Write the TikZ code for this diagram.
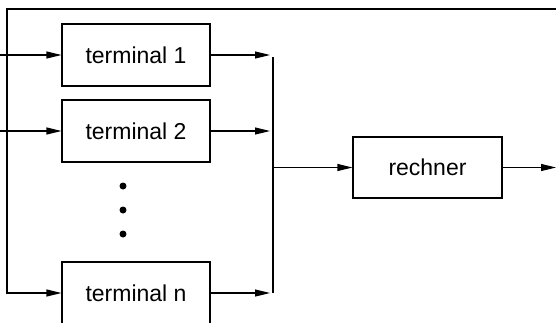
\documentclass[tikz,border=0pt]{standalone}
\usepackage{fontspec}
\setmainfont{Liberation Sans}
\usetikzlibrary{arrows.meta}
\begin{document}
\begin{tikzpicture}[x=1pt,y=-1pt,
  box/.style={draw,line width=1.1pt,minimum width=148pt,minimum height=62pt,inner sep=0pt,font=\fontsize{23}{27}\selectfont},
  conn/.style={line width=1.1pt},
  arr/.style={conn,-{Triangle[length=15pt,width=7pt]}},
  dotmark/.style={circle,fill,inner sep=0pt,minimum size=7pt}]
\clip (0,0) rectangle (556,322);
\node[box] (t1) at (136,55) {terminal 1};
\node[box] (t2) at (136,131) {terminal 2};
\node[box] (tn) at (136,293) {terminal n};
\node[box,minimum width=149pt,minimum height=61pt] (r) at (427.5,167.5) {rechner};
\node[dotmark] (d1) at (123,186) {};
\node[dotmark] (d2) at (123,210) {};
\node[dotmark] (d3) at (123,234) {};
% inputs
\coordinate (in1) at (0,55);
\coordinate (in2) at (0,131);
\coordinate (topR) at (556,9);
\coordinate (corner) at (7,293);
\draw[arr] (in1) -- (t1.west);
\draw[arr] (in2) -- (t2.west);
\draw[arr] (topR) -| (corner) -- (tn.west);
% bus
\coordinate (o1) at (270,55);
\coordinate (o2) at (270,131);
\coordinate (on) at (270,293);
\coordinate (busT) at (273,57);
\coordinate (busB) at (273,293);
\coordinate (busM) at (273,167.5);
\draw[arr] (t1.east) -- (o1);
\draw[arr] (t2.east) -- (o2);
\draw[arr] (tn.east) -- (on);
\draw[conn] (busT) -- (busB);
\draw[arr] (busM) -- (r.west);
\coordinate (out) at (556,167.5);
\draw[arr] (r.east) -- (out);
\end{tikzpicture}
\end{document}
